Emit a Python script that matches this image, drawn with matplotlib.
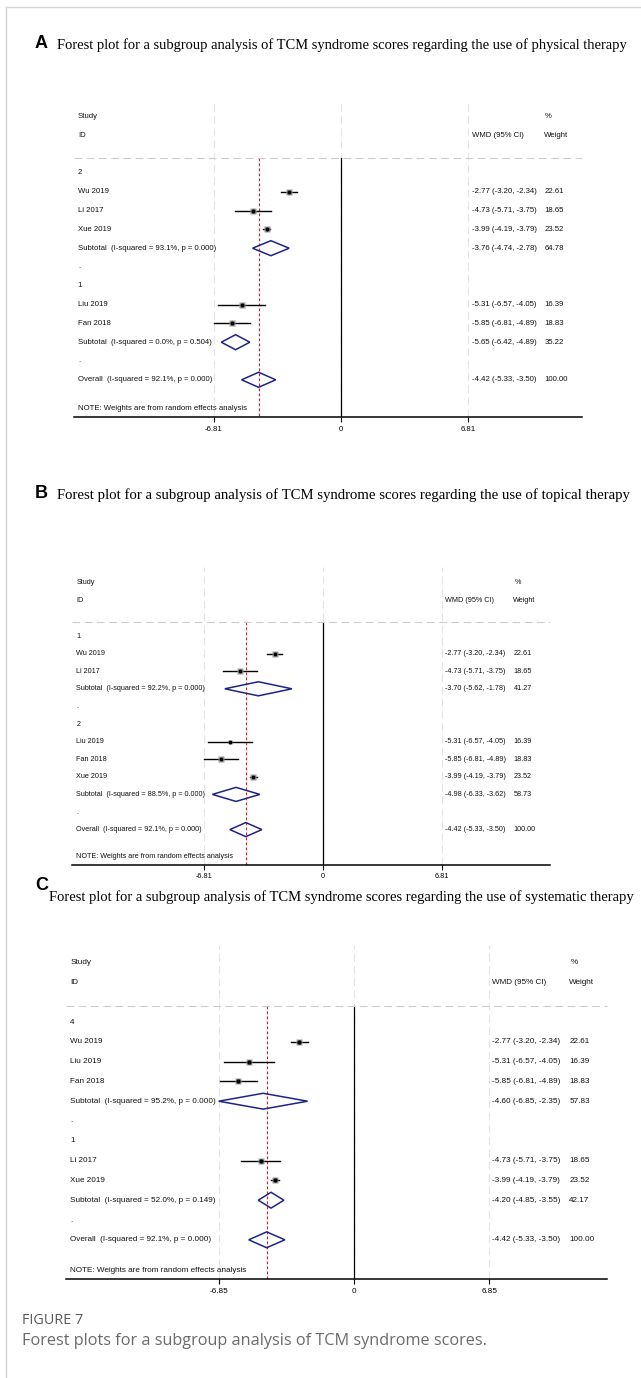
import matplotlib.pyplot as plt
from matplotlib.patches import Polygon
from matplotlib.lines import Line2D

W, H = 641, 1378

# ---- panel A: physical therapy ----
a_labels = ["2", "Wu 2019", "Li 2017", "Xue 2019",
            "Subtotal  (I-squared = 93.1%, p = 0.000)", ".",
            "1", "Liu 2019", "Fan 2018",
            "Subtotal  (I-squared = 0.0%, p = 0.504)", ".",
            "Overall  (I-squared = 92.1%, p = 0.000)"]
a_est = [None, -2.77, -4.73, -3.99, -3.76, None, None, -5.31, -5.85, -5.65, None, -4.42]
a_lo = [None, -3.20, -5.71, -4.19, -4.74, None, None, -6.57, -6.81, -6.42, None, -5.33]
a_hi = [None, -2.34, -3.75, -3.79, -2.78, None, None, -4.05, -4.89, -4.89, None, -3.50]
a_wt = [None, 22.61, 18.65, 23.52, 64.78, None, None, 16.39, 18.83, 35.22, None, 100.00]

# ---- panel B: topical therapy ----
b_labels = ["1", "Wu 2019", "Li 2017",
            "Subtotal  (I-squared = 92.2%, p = 0.000)", ".",
            "2", "Liu 2019", "Fan 2018", "Xue 2019",
            "Subtotal  (I-squared = 88.5%, p = 0.000)", ".",
            "Overall  (I-squared = 92.1%, p = 0.000)"]
b_est = [None, -2.77, -4.73, -3.70, None, None, -5.31, -5.85, -3.99, -4.98, None, -4.42]
b_lo = [None, -3.20, -5.71, -5.62, None, None, -6.57, -6.81, -4.19, -6.33, None, -5.33]
b_hi = [None, -2.34, -3.75, -1.78, None, None, -4.05, -4.89, -3.79, -3.62, None, -3.50]
b_wt = [None, 22.61, 18.65, 41.27, None, None, 16.39, 18.83, 23.52, 58.73, None, 100.00]

# ---- panel C: systematic therapy ----
c_labels = ["4", "Wu 2019", "Liu 2019", "Fan 2018",
            "Subtotal  (I-squared = 95.2%, p = 0.000)", ".",
            "1", "Li 2017", "Xue 2019",
            "Subtotal  (I-squared = 52.0%, p = 0.149)", ".",
            "Overall  (I-squared = 92.1%, p = 0.000)"]
c_est = [None, -2.77, -5.31, -5.85, -4.60, None, None, -4.73, -3.99, -4.20, None, -4.42]
c_lo = [None, -3.20, -6.57, -6.81, -6.85, None, None, -5.71, -4.19, -4.85, None, -5.33]
c_hi = [None, -2.34, -4.05, -4.89, -2.35, None, None, -3.75, -3.79, -3.55, None, -3.50]
c_wt = [None, 22.61, 16.39, 18.83, 57.83, None, None, 18.65, 23.52, 42.17, None, 100.00]

a_tick, b_tick, c_tick = 6.81, 6.81, 6.85

titles = ["Forest plot for a subgroup analysis of TCM syndrome scores regarding the use of physical therapy",
          "Forest plot for a subgroup analysis of TCM syndrome scores regarding the use of topical therapy",
          "Forest plot for a subgroup analysis of TCM syndrome scores regarding the use of systematic therapy"]

SANS = "Liberation Sans"
SERIF = "Liberation Serif"
NAVY = "#1c2585"

fig = plt.figure(figsize=(W / 100, H / 100), dpi=100)


def px_axes(zero_x, ppu, row1_y, row_h, xmin, xmax, top=-3.9, bottom=13.0):
    """Axes laid out so that 1 data unit = ppu px and 1 row = row_h px."""
    l = zero_x + xmin * ppu
    r = zero_x + xmax * ppu
    t = row1_y + top * row_h
    b = row1_y + bottom * row_h
    ax = fig.add_axes([l / W, 1 - b / H, (r - l) / W, (b - t) / H])
    ax.set_xlim(xmin, xmax)
    ax.set_ylim(bottom, top)
    return ax


def forest(ax, labels, est, lo, hi, wt, tick, fs, scale):
    xmin, xmax = ax.get_xlim()
    n = len(labels)
    y_axis = ax.get_ylim()[0]
    tx = xmin + 0.23
    for s in ["top", "right", "left"]:
        ax.spines[s].set_visible(False)
    ax.spines["bottom"].set_linewidth(1.1)
    ax.set_yticks([])
    ax.set_xticks([-tick, 0, tick])
    ax.set_xticklabels([f"{-tick:.2f}", "0", f"{tick:.2f}"], family=SANS)
    ax.tick_params(axis="x", length=3.5, width=0.8, labelsize=fs, pad=2.5)
    ax.patch.set_alpha(0)

    # light reference grid and header separator
    for xv in (-tick, 0, tick):
        ax.axvline(xv, color="#e4e4e4", lw=0.8, ls=(0, (7, 4)), zorder=0)
    sep = -0.8
    ax.plot([xmin, xmax], [sep, sep], color="#cccccc", lw=0.8, ls=(0, (7, 4)), clip_on=False)
    ax.plot([0, 0], [sep, y_axis], color="black", lw=0.9, zorder=1)
    ax.plot([est[-1]] * 2, [sep, y_axis], color="#e3141c", lw=0.8, ls=(0, (2.5, 2)), zorder=1)

    kw = dict(fontsize=fs, family=SANS, va="center", color="#111111")
    ax.text(tx, -3.03, "Study", **kw)
    ax.text(tx, -2.02, "ID", **kw)
    ax.text(10.95, -3.03, "%", **kw)
    ax.text(7.0, -2.02, "WMD (95% CI)", **kw)
    ax.text(10.9, -2.02, "Weight", **kw)

    for i, lab in enumerate(labels):
        ax.text(tx, i, lab, **kw)
        if est[i] is None:
            continue
        ax.text(7.0, i, f"{est[i]:.2f} ({lo[i]:.2f}, {hi[i]:.2f})", **kw)
        ax.text(10.9, i, f"{wt[i]:.2f}", **kw)
        if lab.startswith(("Subtotal", "Overall")):
            d = Polygon([(lo[i], i), (est[i], i - 0.4), (hi[i], i), (est[i], i + 0.4)],
                        closed=True, fill=False, edgecolor=NAVY, lw=1.1, zorder=3)
            ax.add_patch(d)
        else:
            ax.plot([lo[i], hi[i]], [i, i], color="black", lw=1.0, zorder=2)
            ax.plot(est[i], i, marker="s", ms=0.9 * wt[i] ** 0.5 * scale,
                    color="#9a9a9a", mec="none", zorder=2)
            ax.plot(est[i], i, marker="o", ms=3.0 * scale, color="black", mec="none", zorder=3)

    ax.text(tx, n - 1 + 1.55, "NOTE: Weights are from random effects analysis", **kw)


# panel A
ax_a = px_axes(341, 18.65, 173, 18.8, -14.34, 12.92)
forest(ax_a, a_labels, a_est, a_lo, a_hi, a_wt, a_tick, 5.6, 1.0)
# panel B
ax_b = px_axes(323, 17.47, 636, 17.6, -14.34, 12.98)
forest(ax_b, b_labels, b_est, b_lo, b_hi, b_wt, b_tick, 5.25, 0.94)
# panel C
ax_c = px_axes(354, 19.75, 1022, 19.8, -14.6, 12.8)
forest(ax_c, c_labels, c_est, c_lo, c_hi, c_wt, c_tick, 5.9, 1.06)

# panel letters and titles
fig.text(35 / W, 1 - 44 / H, "A", fontsize=13, weight="bold", family=SANS, va="center")
fig.text(57 / W, 1 - 45 / H, titles[0], fontsize=10.45, family=SERIF, va="center")
fig.text(35 / W, 1 - 493 / H, "B", fontsize=13, weight="bold", family=SANS, va="center")
fig.text(57 / W, 1 - 495 / H, titles[1], fontsize=10.65, family=SERIF, va="center")
fig.text(35 / W, 1 - 886 / H, "C", fontsize=13, weight="bold", family=SANS, va="center")
fig.text(49 / W, 1 - 897 / H, titles[2], fontsize=10.55, family=SERIF, va="center")

# caption
fig.text(22 / W, 1 - 1321 / H, "FIGURE 7", fontsize=10.4, family="Open Sans", color="#5a5a5a", va="center")
fig.text(22 / W, 1 - 1341 / H, "Forest plots for a subgroup analysis of TCM syndrome scores.",
         fontsize=11.7, family="Open Sans", color="#6a6a6a", va="center")

# page frame (top and left rules)
fig.add_artist(Line2D([6 / W, 6 / W], [0, 1 - 7 / H], color="#d4d4d4", lw=1.0))
fig.add_artist(Line2D([6 / W, 1], [1 - 7 / H, 1 - 7 / H], color="#d4d4d4", lw=1.0))

fig.savefig("out.png", dpi=100)
